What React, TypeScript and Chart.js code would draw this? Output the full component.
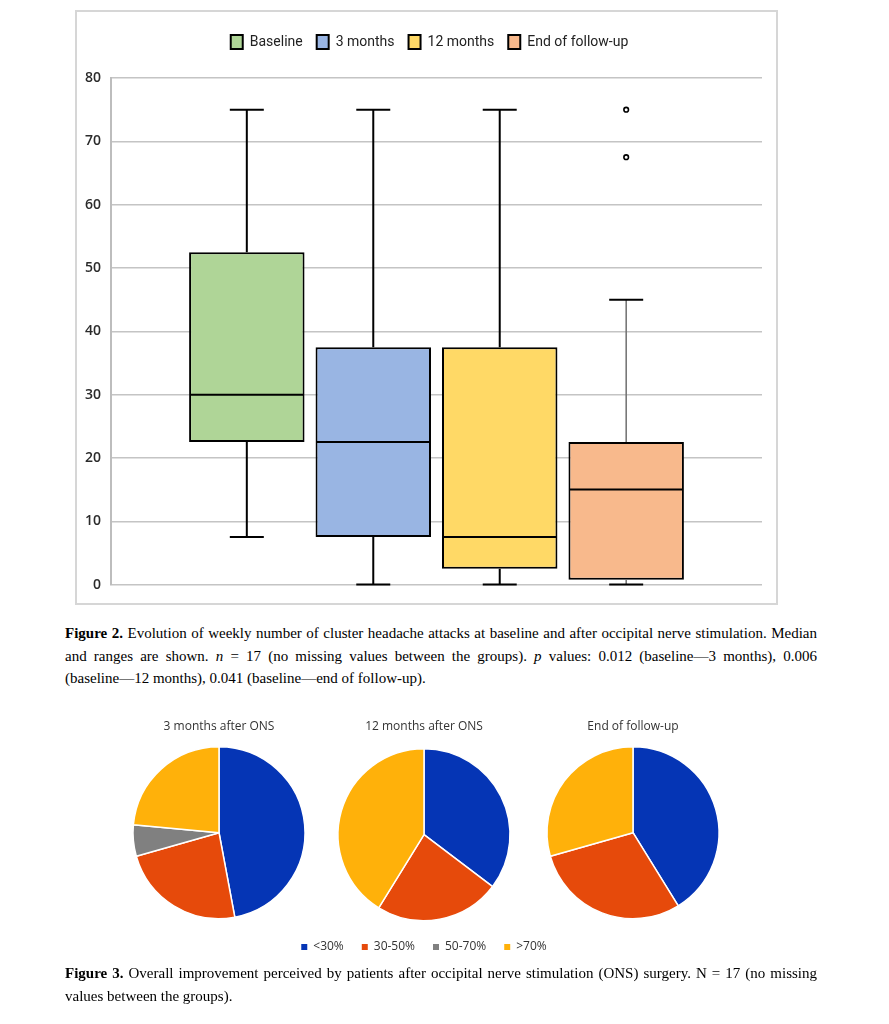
import React, { useEffect, useRef } from "react";
import Chart from "chart.js/auto";

// weekly number of attacks (box plot summary per group)
const groups = ["Baseline", "3 months", "12 months", "End of follow-up"];
const lowWhisker = [7.5, 0, 0, 0];
const firstQuartile = [22.5, 7.5, 2.5, 0.75];
const medians = [30, 22.5, 7.5, 15];
const thirdQuartile = [52.5, 37.5, 37.5, 22.5];
const highWhisker = [75, 75, 75, 45];
const outliers: number[][] = [[], [], [], [75, 67.5]];

// perceived improvement, number of patients (N = 17)
const improvementLabels = ["<30%", "30-50%", "50-70%", ">70%"];
const pieTitles = ["3 months after ONS", "12 months after ONS", "End of follow-up"];
const threeMonths = [8, 4, 1, 4];
const twelveMonths = [6, 4, 0, 7];
const endOfFollowUp = [7, 5, 0, 5];

const boxColors = ["#AFD597", "#99B5E3", "#FFD966", "#F8B98C"];
const whiskerColors = ["#000", "#000", "#000", "#6f6f6f"];
const pieColors = ["#0535B5", "#E64A0B", "#808080", "#FFB10A"];

const sans = "'Open Sans', 'Noto Sans', sans-serif";
const serif = "'Liberation Serif', 'DejaVu Serif', serif";

const whiskerPlugin = {
    id: "whiskers",
    afterLayout(chart: any) {
        // legend sits a little right of the plot centre in the original
        if (chart.legend) {
            chart.legend.left += 10;
            chart.legend.right += 10;
        }
    },
    afterDatasetsDraw(chart: any) {
        const ctx = chart.ctx;
        const y = chart.scales.y;
        chart.data.datasets.forEach((_: any, i: number) => {
            const bar = chart.getDatasetMeta(i).data[0];
            if (!bar) return;
            const { x, width } = bar.getProps(["x", "width"], true);
            const cap = 17;
            const yMin = y.getPixelForValue(lowWhisker[i]);
            const yQ1 = y.getPixelForValue(firstQuartile[i]);
            const yMed = y.getPixelForValue(medians[i]);
            const yQ3 = y.getPixelForValue(thirdQuartile[i]);
            const yMax = y.getPixelForValue(highWhisker[i]);
            ctx.save();
            ctx.lineCap = "butt";
            // vertical whisker lines
            ctx.strokeStyle = whiskerColors[i];
            ctx.lineWidth = i === 3 ? 1.5 : 2;
            ctx.beginPath();
            ctx.moveTo(x, yQ3);
            ctx.lineTo(x, yMax);
            ctx.moveTo(x, yQ1);
            ctx.lineTo(x, yMin);
            ctx.stroke();
            // caps and median
            ctx.strokeStyle = "#000";
            ctx.lineWidth = 2;
            ctx.beginPath();
            ctx.moveTo(x - cap, yMax);
            ctx.lineTo(x + cap, yMax);
            ctx.moveTo(x - cap, yMin);
            ctx.lineTo(x + cap, yMin);
            ctx.moveTo(x - width / 2 + 1, yMed);
            ctx.lineTo(x + width / 2 - 1, yMed);
            ctx.stroke();
            // outliers
            outliers[i].forEach((v) => {
                ctx.beginPath();
                ctx.arc(x, y.getPixelForValue(v), 2.3, 0, Math.PI * 2);
                ctx.fillStyle = "#fff";
                ctx.fill();
                ctx.lineWidth = 1.6;
                ctx.stroke();
            });
            ctx.restore();
        });
    },
};

const BoxChart = () => {
    const canvasRef = useRef<HTMLCanvasElement>(null);

    useEffect(() => {
        const chart = new Chart(canvasRef.current!, {
            type: "bar",
            data: {
                labels: [""],
                datasets: groups.map((g, i) => ({
                    label: g,
                    data: [[firstQuartile[i], thirdQuartile[i]]] as any,
                    backgroundColor: boxColors[i],
                    borderColor: "#000",
                    borderWidth: 2,
                    borderSkipped: false,
                    categoryPercentage: 0.777,
                    barPercentage: 0.913,
                })),
            },
            options: {
                responsive: false,
                animation: false,
                layout: { padding: { top: 9, right: 14, bottom: 18, left: 0 } },
                scales: {
                    x: { display: false },
                    // empty top axis, only keeps room between legend and plot
                    spacer: {
                        type: "category",
                        position: "top",
                        labels: [""],
                        grid: { display: false },
                        ticks: { display: false },
                        border: { display: false },
                        afterFit: (scale: any) => {
                            scale.height = 19;
                        },
                    },
                    y: {
                        min: 0,
                        max: 80,
                        afterFit: (scale: any) => {
                            scale.width = 34;
                        },
                        ticks: {
                            stepSize: 10,
                            padding: 10,
                            color: "#2b2b2b",
                            font: { family: sans, size: 14, weight: 600 },
                        },
                        grid: { color: "#c4c4c4", lineWidth: 1.5, drawTicks: false },
                        border: { color: "#bdbdbd", width: 2 },
                    },
                },
                plugins: {
                    legend: {
                        position: "top",
                        labels: {
                            boxWidth: 12,
                            boxHeight: 14,
                            padding: 14,
                            color: "#222",
                            font: { family: "Roboto, 'Open Sans', sans-serif", size: 14 },
                        },
                    },
                    tooltip: { enabled: false },
                },
            },
            plugins: [whiskerPlugin],
        });

        return () => {
            chart.destroy();
        };
    }, []);

    return (
        <canvas
            ref={canvasRef}
            width={699}
            height={591}
            style={{ position: "absolute", left: 77, top: 12, width: 699, height: 591 }}
        />
    );
};

type PieProps = { values: number[]; title: string; center: number; showLegend: boolean };

const PieChart = ({ values, title, center, showLegend }: PieProps) => {
    const canvasRef = useRef<HTMLCanvasElement>(null);
    const w = showLegend ? 320 : 210;
    const h = showLegend ? 253 : 240;

    useEffect(() => {
        const chart = new Chart(canvasRef.current!, {
            type: "pie",
            data: {
                labels: improvementLabels,
                datasets: [
                    {
                        data: values,
                        backgroundColor: pieColors,
                        borderColor: "#fff",
                        borderWidth: 1.5,
                        radius: 86,
                    },
                ],
            },
            options: {
                responsive: false,
                animation: false,
                layout: { padding: { bottom: showLegend ? 2 : 33 } },
                plugins: {
                    title: {
                        display: true,
                        text: title,
                        color: "#333",
                        font: { family: sans, size: 12, weight: "normal" },
                        padding: { top: 7, bottom: 13 },
                    },
                    legend: {
                        display: showLegend,
                        position: "bottom",
                        labels: {
                            boxWidth: 6,
                            boxHeight: 6,
                            padding: 18,
                            color: "#333",
                            font: { family: sans, size: 12 },
                            generateLabels: (c: any) =>
                                Chart.overrides.pie.plugins.legend.labels
                                    .generateLabels(c)
                                    .map((l: any) => ({ ...l, lineWidth: 0, hidden: false })),
                        },
                    },
                    tooltip: { enabled: false },
                },
            },
        });

        return () => {
            chart.destroy();
        };
    }, []);

    return (
        <canvas
            ref={canvasRef}
            width={w}
            height={h}
            style={{ position: "absolute", left: center - w / 2, top: 712, width: w, height: h }}
        />
    );
};

const lineStyle = (last: boolean): React.CSSProperties => ({
    textAlign: "justify",
    textAlignLast: last ? "left" : "justify",
    whiteSpace: "nowrap",
    height: 22.5,
});

const Caption = ({ top, lines }: { top: number; lines: React.ReactNode[] }) => (
    <div
        style={{
            position: "absolute",
            left: 65,
            top,
            width: 752,
            fontFamily: serif,
            fontSize: 15,
            lineHeight: "22.5px",
            color: "#000",
        }}
    >
        {lines.map((l, i) => (
            <div key={i} style={lineStyle(i === lines.length - 1)}>
                {l}
            </div>
        ))}
    </div>
);

export default function App() {
    return (
        <div style={{ position: "absolute", left: 0, top: 0, width: 889, height: 1024, background: "#fff", overflow: "hidden" }}>
            <div
                style={{
                    position: "absolute",
                    left: 75,
                    top: 10,
                    width: 699,
                    height: 591,
                    border: "2px solid #d6d6d6",
                }}
            />
            <BoxChart />
            <Caption
                top={622}
                lines={[
                    <>
                        <b>Figure 2.</b> Evolution of weekly number of cluster headache attacks at baseline and after occipital nerve stimulation. Median
                    </>,
                    <>
                        and ranges are shown. <i>n</i> = 17 (no missing values between the groups). <i>p</i> values: 0.012 (baseline—3 months), 0.006
                    </>,
                    <>(baseline—12 months), 0.041 (baseline—end of follow-up).</>,
                ]}
            />
            <PieChart values={threeMonths} title={pieTitles[0]} center={219} showLegend={false} />
            <PieChart values={twelveMonths} title={pieTitles[1]} center={424} showLegend={true} />
            <PieChart values={endOfFollowUp} title={pieTitles[2]} center={633} showLegend={false} />
            <Caption
                top={962}
                lines={[
                    <>
                        <b>Figure 3.</b> Overall improvement perceived by patients after occipital nerve stimulation (ONS) surgery. N = 17 (no missing
                    </>,
                    <>values between the groups).</>,
                ]}
            />
        </div>
    );
}
